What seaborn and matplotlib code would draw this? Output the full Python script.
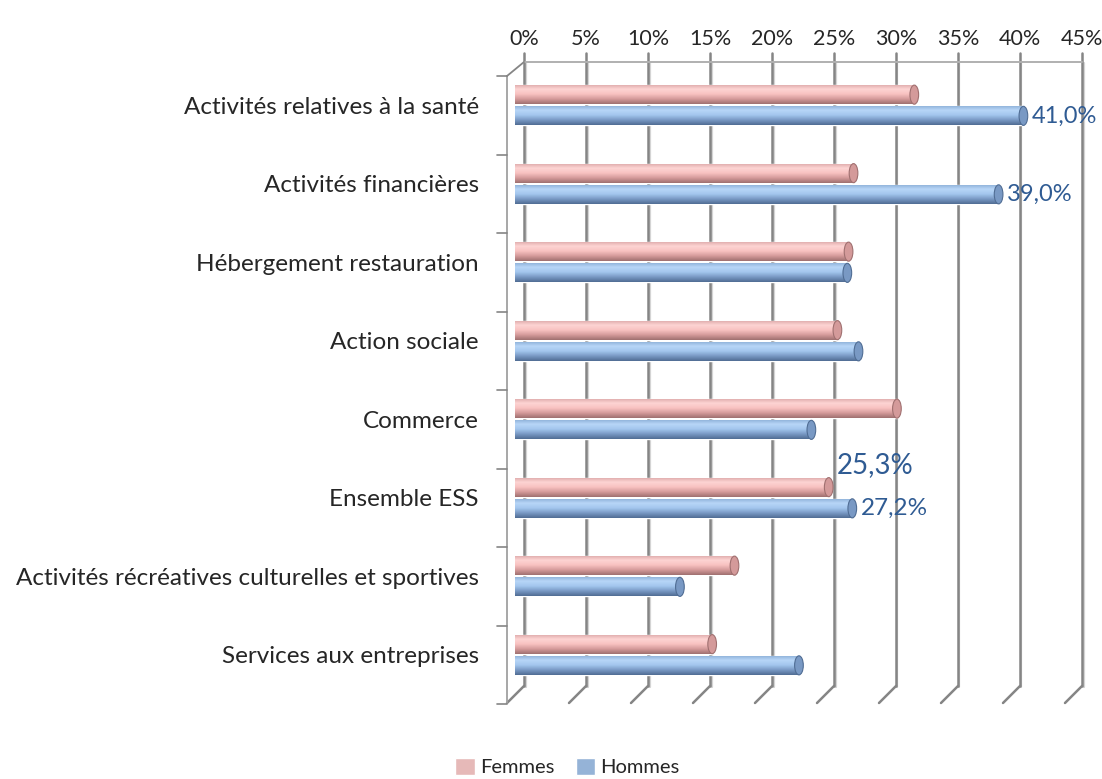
import numpy as np
import pandas as pd
import matplotlib
matplotlib.use('Agg')
import matplotlib.pyplot as plt
import matplotlib.transforms as mtransforms
import seaborn as sns
from matplotlib.colors import LinearSegmentedColormap
from matplotlib.lines import Line2D
from matplotlib.patches import Ellipse, Patch

# Données (%)
categories = [
    'Activités relatives à la santé',
    'Activités financières',
    'Hébergement restauration',
    'Action sociale',
    'Commerce',
    'Ensemble ESS',
    'Activités récréatives culturelles et sportives',
    'Services aux entreprises',
]
femmes = [32.2, 27.3, 26.9, 26.0, 30.8, 25.3, 17.7, 15.9]
hommes = [41.0, 39.0, 26.8, 27.7, 23.9, 27.2, 13.3, 22.9]
series = ['Femmes', 'Hommes']
ticks = list(range(0, 50, 5))

# étiquettes affichées : (catégorie, série) -> taille de police
etiquettes = {
    ('Activités relatives à la santé', 'Hommes'): 17,
    ('Activités financières', 'Hommes'): 17,
    ('Ensemble ESS', 'Femmes'): 20,
    ('Ensemble ESS', 'Hommes'): 17.5,
}

df = pd.DataFrame({
    'categorie': categories * 2,
    'sexe': ['Femmes'] * len(categories) + ['Hommes'] * len(categories),
    'valeur': femmes + hommes,
})

sns.set_style('white')
plt.rcParams['font.family'] = ['Lato', 'DejaVu Sans']

W, H = 1102, 779
fig = plt.figure(figsize=(W / 100, H / 100), dpi=100)
L, R, top, bottom = 502.6, 1091.6, 66, 694
ax = fig.add_axes([L / W, 1 - bottom / H, (R - L) / W, (bottom - top) / H])
ax.patch.set_alpha(0)

palette = {'Femmes': '#f4b8b7', 'Hommes': '#9dc1ea'}
sns.barplot(data=df, y='categorie', x='valeur', hue='sexe', hue_order=series,
            orient='h', palette=palette, width=0.54, gap=0.1, legend=False,
            saturation=1, ax=ax, zorder=3)

# effet cylindre
degrades = {
    'Femmes': ['#dca8a8', '#fdd4d3', '#f8c2c1', '#d49a9a', '#a07070'],
    'Hommes': ['#8aadd6', '#b8d6f7', '#a3c6ee', '#7999c4', '#506d94'],
}
grad = np.linspace(0, 1, 64).reshape(-1, 1)
bars = [p for p in ax.patches if p.get_width() > 0]
n = len(categories)
for i, p in enumerate(bars):
    s = series[i // n]
    cmap = LinearSegmentedColormap.from_list(s, degrades[s])
    x0, y0, w, h = p.get_x(), p.get_y(), p.get_width(), p.get_height()
    im = ax.imshow(grad, cmap=cmap, extent=[x0, x0 + w, y0, y0 + h],
                   origin='lower', aspect='auto', zorder=4)
    im.set_clip_path(p)
    cap = Ellipse((x0 + w, y0 + h / 2), width=0.7, height=h,
                  facecolor=degrades[s][3], edgecolor=degrades[s][4],
                  linewidth=0.8, zorder=5)
    ax.add_patch(cap)
    cat = categories[i % n]
    if (cat, s) in etiquettes:
        taille = etiquettes[(cat, s)]
        txt = f"{df.loc[(df.categorie == cat) & (df.sexe == s), 'valeur'].iloc[0]:.1f}%".replace('.', ',')
        if taille > 18:
            ax.annotate(txt, (x0 + w, y0), xytext=(6, 0), textcoords='offset points',
                        ha='left', va='bottom', fontsize=taille, color='#2f5b93', zorder=6)
        else:
            ax.annotate(txt, (x0 + w, y0 + h / 2), xytext=(6, 0), textcoords='offset points',
                        ha='left', va='center', fontsize=taille, color='#2f5b93', zorder=6)

ax.set_xlim(-1, 46.5)
ax.set_ylim(len(categories) - 0.5, -0.5)
ax.set_xticks(ticks)
ax.set_xticklabels([f'{t}%' for t in ticks], fontsize=15.5)
ax.xaxis.set_ticks_position('top')
ax.tick_params(axis='x', length=0, pad=12)
ax.tick_params(axis='y', length=0, pad=17, labelsize=17.5)
decal = mtransforms.ScaledTranslation(0.09, 0, fig.dpi_scale_trans)
for lab in ax.get_xticklabels():
    lab.set_transform(lab.get_transform() + decal)
ax.set_xlabel('')
ax.set_ylabel('')
ax.grid(False)
for sp in ax.spines.values():
    sp.set_visible(False)


# murs 3D (grille arrière, pieds obliques, axe avant)
def px(v):
    return ax.transData.transform((v, 0))[0]


def ligne(x1, y1, x2, y2, **kw):
    fig.add_artist(Line2D([x1 / W, x2 / W], [1 - y1 / H, 1 - y2 / H],
                          transform=fig.transFigure, **kw))


gris = '#858585'
haut, pied = 62, 686
for t in ticks:
    xb = px(t) + 9
    ligne(xb + 1.5, haut + 1, xb + 1.5, pied + 1, color='#d4d4d4', linewidth=1.6, zorder=0)
    ligne(xb, haut - 9, xb, pied, color=gris, linewidth=1.8, zorder=0)
    ligne(xb, pied, xb - 17, pied + 17, color=gris, linewidth=1.8, zorder=0)
ligne(px(0) + 9, haut, px(ticks[-1]) + 9, haut, color='#b0b0b0', linewidth=1.4, zorder=0)
x_av = px(0) - 8
ligne(x_av, haut + 14, x_av, pied + 17, color='#a0a0a0', linewidth=1.3)
ligne(x_av, haut + 14, x_av + 17, haut, color=gris, linewidth=1.3)
for k in range(len(categories) + 1):
    yb = H - ax.transData.transform((0, k - 0.5))[1] + 10
    ligne(x_av - 10, yb, x_av, yb, color=gris, linewidth=1.2)

handles = [Patch(facecolor='#e6b9b8', label='Femmes'), Patch(facecolor='#95b3d7', label='Hommes')]
fig.legend(handles=handles, loc='lower center', bbox_to_anchor=(0.515, -0.02), ncol=2,
           frameon=False, fontsize=14.5, handlelength=0.95, handleheight=0.95,
           handletextpad=0.25, columnspacing=1.1)

fig.savefig('out.png', dpi=100)
